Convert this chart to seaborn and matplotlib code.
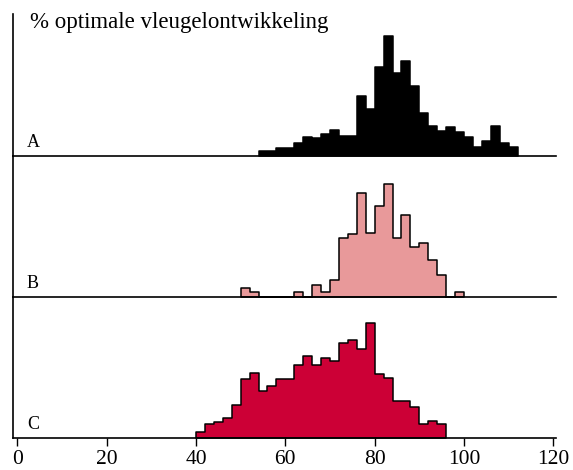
import numpy as np
import matplotlib
matplotlib.use("Agg")
import matplotlib.pyplot as plt
import seaborn as sns

# ---- data (frequency, arbitrary units), bin width 2 ----
bin_width = 2
a_bins = list(range(54, 112, 2))
a_values = [5.3, 5.3, 8.3, 8.3, 12.7, 19.3, 17.7, 21.7, 26, 20, 20, 59.3, 46.7, 88.7,
            119.3, 82.7, 94.7, 70, 42.7, 30, 25.3, 28.7, 24.3, 19.3, 9.3, 15.3, 29.3,
            12.7, 9.3]
b_bins = list(range(50, 100, 2))
b_values = [9.3, 5.3, 0, 0, 0, 0, 5.3, 0, 12, 5.3, 17.3, 59.3, 63.3, 104.3, 64.3,
            90.7, 113.3, 59, 81.7, 50, 54.3, 36.7, 22.3, 0, 5.3]
c_bins = list(range(40, 96, 2))
c_values = [6, 14, 16, 20, 32.7, 59.3, 65.3, 46.7, 52, 59.3, 59.3, 72.7, 81.7, 72.7,
            80, 76.7, 95, 98.3, 89.3, 115.3, 64, 60, 36.7, 36.7, 30.7, 14, 17, 14]
panel_labels = ["A", "B", "C"]
colors = ["#000000", "#E8999A", "#CC0036"]
x_ticks = [0, 20, 40, 60, 80, 100, 120]
title = "% optimale vleugelontwikkeling"

sns.set_style("white")
plt.rcParams["font.family"] = ["Liberation Serif", "DejaVu Serif"]

W, H = 573, 470
fig = plt.figure(figsize=(W / 100, H / 100), dpi=100)

left = 13.3 / W
width = (556 - 13.3) / W
panels_px = [(14, 156), (156, 297), (297, 438)]

series = [(a_bins, a_values), (b_bins, b_values), (c_bins, c_values)]
axes = []
for i, ((top, bot), (bins, vals)) in enumerate(zip(panels_px, series)):
    ax = fig.add_axes([left, (H - bot) / H, width, (bot - top) / H])
    centers = np.array(bins) + bin_width / 2
    edges = list(bins) + [bins[-1] + bin_width]
    sns.histplot(x=centers, weights=vals, bins=edges, element="step", fill=True,
                 color=colors[i], edgecolor="black", linewidth=1.1, alpha=1, ax=ax)
    ax.set_xlim(-0.9, 120.6)
    ax.set_ylim(0, 141)
    for s in ["top", "right"]:
        ax.spines[s].set_visible(False)
    for s in ["left", "bottom"]:
        ax.spines[s].set_color("black")
        ax.spines[s].set_linewidth(1.2)
    ax.set_yticks([])
    ax.set_ylabel("")
    ax.set_xlabel("")
    ax.patch.set_alpha(0)
    if i < 2:
        ax.tick_params(bottom=False, labelbottom=False)
    else:
        ax.set_xticks(x_ticks)
        ax.set_xticklabels([str(t) for t in x_ticks])
        ax.tick_params(axis="x", bottom=True, direction="out", length=5.5, width=1,
                       color="black", labelsize=15.5, pad=3, labelcolor="black")
    fig.text(27 / W, (H - (bot - 9)) / H, panel_labels[i], fontsize=13,
             ha="left", va="baseline", color="black")
    axes.append(ax)

fig.text(30 / W, (H - 28) / H, title, fontsize=16.5, ha="left", va="baseline",
         color="black")

fig.savefig("out.png", dpi=100)
